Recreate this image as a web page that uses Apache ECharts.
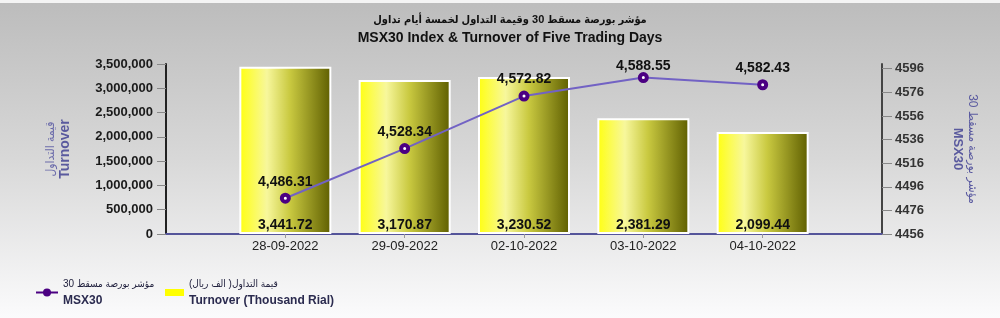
<!DOCTYPE html>
<html>
<head>
<meta charset="utf-8">
<script src="https://cdn.jsdelivr.net/npm/echarts@6/dist/echarts.min.js"></script>
<style>html,body{margin:0;padding:0;}#c{width:1000px;height:318px;}</style>
</head>
<body>
<div id="c"></div>
<script>
const categories = ['28-09-2022', '29-09-2022', '02-10-2022', '03-10-2022', '04-10-2022'];
const turnoverThousand = [3441.72, 3170.87, 3230.52, 2381.29, 2099.44];
const msx30 = [4486.31, 4528.34, 4572.82, 4588.55, 4582.43];
const leftTicks = [0, 500000, 1000000, 1500000, 2000000, 2500000, 3000000, 3500000];
const rightTicks = [4456, 4476, 4496, 4516, 4536, 4556, 4576, 4596];

const titleAr = 'مؤشر بورصة مسقط 30 وقيمة التداول لخمسة أيام تداول';
const titleEn = 'MSX30 Index & Turnover of Five Trading Days';
const leftNameAr = 'قيمة التداول', leftNameEn = 'Turnover';
const rightNameAr = 'مؤشر بورصة مسقط 30', rightNameEn = 'MSX30';
const legendLineAr = 'مؤشر بورصة مسقط 30', legendLineEn = 'MSX30';
const legendBarAr = 'قيمة التداول( الف ريال)\u200F', legendBarEn = 'Turnover (Thousand Rial)';

const FONT = '"Liberation Sans", Arial, "DejaVu Sans", sans-serif';
const ARFONT = '"Liberation Sans", "DejaVu Sans Condensed", "DejaVu Sans", sans-serif';
const fmt = (v, d) => Number(v).toLocaleString('en-US', {minimumFractionDigits: d, maximumFractionDigits: d});

// padded category axis so that the five days sit at 1/6 .. 5/6 of the plot width
const xCats = [''].concat(categories, ['']);
const barData = [null].concat(turnoverThousand.map(v => v * 1000), [null]);
const rightMax = 4600;
const lineData = [null].concat(msx30.map(v => (v > rightMax - 14)
  ? {value: v, label: {offset: [0, 5]}} : v), [null]);

const chart = echarts.init(document.getElementById('c'), null, {renderer: 'canvas'});
const richLegend = {
  a: {fontFamily: ARFONT, fontSize: 10, fontWeight: 'normal', color: '#22223f', lineHeight: 17},
  b: {fontFamily: FONT, fontSize: 12, fontWeight: 'bold', color: '#2b2b4f', lineHeight: 17}
};
const option = {
  animation: false,
  backgroundColor: {type: 'linear', x: 0, y: 0, x2: 0, y2: 1, colorStops: [
    {offset: 0, color: '#bcbcbc'}, {offset: 0.5, color: '#d8d8d8'}, {offset: 1, color: '#fbfbfc'}]},
  graphic: [{type: 'rect', shape: {x: 0, y: 0, width: 1000, height: 3}, style: {fill: '#f4f4f4'}, silent: true}],
  title: [
    {text: titleAr, left: 505, textAlign: 'center', top: 9, textStyle: {fontFamily: ARFONT, fontSize: 11, fontWeight: 'bold', color: '#111'}},
    {text: titleEn, left: 505, textAlign: 'center', top: 26, textStyle: {fontFamily: FONT, fontSize: 14, fontWeight: 'bold', color: '#111'}}
  ],
  legend: [
    {
      left: 35, top: 279, padding: 0, itemWidth: 22, itemHeight: 10, itemGap: 10,
      data: [{name: 'MSX30', itemStyle: {color: '#4b0082', borderColor: '#4b0082', borderWidth: 0}, lineStyle: {color: '#4b0082', width: 2}}],
      formatter: () => '{a|' + legendLineAr + '}\n{b|' + legendLineEn + '}',
      textStyle: {rich: richLegend}
    },
    {
      left: 165, top: 279, padding: 0, itemWidth: 19, itemHeight: 7, itemGap: 10,
      data: [{name: 'Turnover', icon: 'rect', itemStyle: {color: '#ffff00', borderWidth: 0}}],
      formatter: () => '{a|' + legendBarAr + '}\n{b|' + legendBarEn + '}',
      textStyle: {rich: richLegend}
    }
  ],
  grid: {left: 166, right: 118, top: 64, bottom: 84, containLabel: false, outerBoundsMode: 'none'},
  xAxis: {
    type: 'category', data: xCats, boundaryGap: false,
    axisLine: {lineStyle: {color: '#55559a', width: 2}},
    axisTick: {show: true, length: 4, lineStyle: {color: '#999'}, interval: (i) => i > 0 && i < xCats.length - 1},
    axisLabel: {margin: 6, fontFamily: FONT, fontSize: 13, color: '#222', interval: 0},
    splitLine: {show: false}
  },
  yAxis: [
    {
      type: 'value', min: 0, max: 3500000, interval: 500000, position: 'left',
      name: '{a|' + leftNameAr + '}\n{b|' + leftNameEn + '}',
      nameLocation: 'middle', nameRotate: 90, nameGap: 93,
      nameTextStyle: {rich: {
        a: {fontFamily: ARFONT, fontSize: 12, color: '#6a6aaa', lineHeight: 15},
        b: {fontFamily: FONT, fontSize: 14, fontWeight: 'bold', color: '#5a5a9e', lineHeight: 15}}},
      axisLine: {show: true, lineStyle: {color: '#222', width: 2}},
      axisTick: {show: true, length: 9, lineStyle: {color: '#888'}, customValues: leftTicks},
      axisLabel: {margin: 13, fontFamily: FONT, fontSize: 13, fontWeight: 'bold', color: '#1a1a1a',
        customValues: leftTicks, formatter: (v) => fmt(v, 0)},
      splitLine: {show: false}
    },
    {
      type: 'value', min: 4456, max: rightMax, position: 'right',
      name: '{a|' + rightNameAr + '}\n{b|' + rightNameEn + '}',
      nameLocation: 'middle', nameRotate: -90, nameGap: 68,
      nameTextStyle: {rich: {
        a: {fontFamily: ARFONT, fontSize: 12, color: '#5a5aa0', lineHeight: 15},
        b: {fontFamily: FONT, fontSize: 13, fontWeight: 'bold', color: '#5a5a9e', lineHeight: 15}}},
      axisLine: {show: true, lineStyle: {color: '#444', width: 2}},
      axisTick: {show: true, length: 10, lineStyle: {color: '#888'}, customValues: rightTicks},
      axisLabel: {margin: 13, fontFamily: FONT, fontSize: 13, fontWeight: 'bold', color: '#333',
        customValues: rightTicks, formatter: (v) => String(v)},
      splitLine: {show: false}
    }
  ],
  series: [
    {
      name: 'Turnover', type: 'bar', yAxisIndex: 0, data: barData, barWidth: 92,
      itemStyle: {
        color: {type: 'linear', x: 0, y: 0, x2: 1, y2: 0, colorStops: [
          {offset: 0, color: '#ffff10'}, {offset: 0.3, color: '#f7f79c'}, {offset: 0.55, color: '#c9c940'}, {offset: 1, color: '#5e5e00'}]},
        borderColor: '#ffffff', borderWidth: 2
      },
      label: {show: true, position: 'insideBottom', distance: 2, fontFamily: FONT, fontSize: 14, fontWeight: 'bold', color: '#111',
        formatter: (p) => fmt(p.value / 1000, 2)}
    },
    {
      name: 'MSX30', type: 'line', yAxisIndex: 1, data: lineData, connectNulls: false,
      symbol: 'circle', symbolSize: 7,
      lineStyle: {color: '#7262c4', width: 2},
      itemStyle: {color: '#ffffff', borderColor: '#4b0082', borderWidth: 4},
      label: {show: true, position: 'top', distance: 4, fontFamily: FONT, fontSize: 14, fontWeight: 'bold', color: '#111',
        formatter: (p) => fmt(p.value, 2)},
      z: 5
    }
  ]
};
chart.setOption(option);
</script>
</body>
</html>
